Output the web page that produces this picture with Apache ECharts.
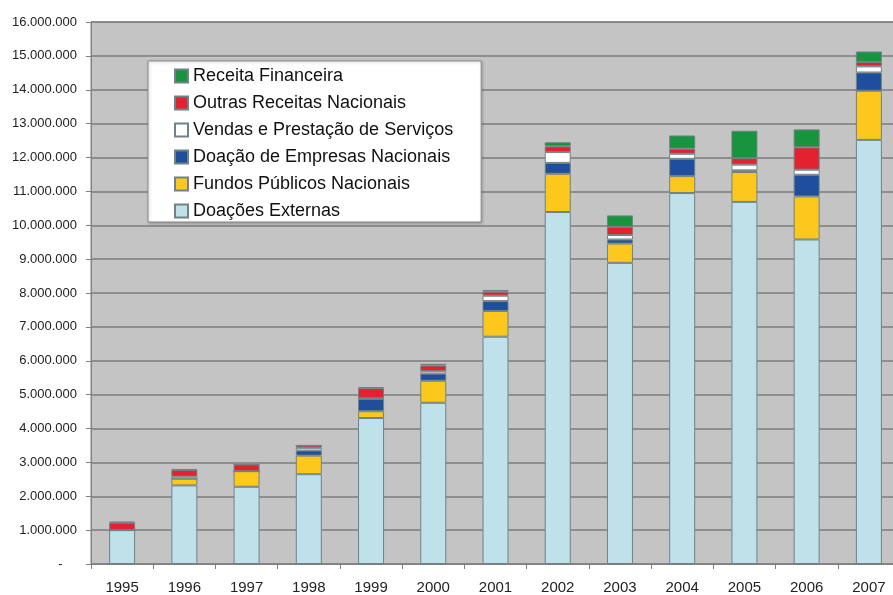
<!DOCTYPE html>
<html>
<head>
<meta charset="utf-8">
<script src="https://cdn.jsdelivr.net/npm/echarts@6/dist/echarts.min.js"></script>
<style>
  html, body { margin: 0; padding: 0; background: #fff; overflow: hidden; }
  #receitas { width: 900px; height: 595px; }
</style>
</head>
<body>
<div id="receitas"></div>
<script>
/* jshint esversion: 6 */
// =====================================================================================================================
// Donnees
let anos = ['1995', '1996', '1997', '1998', '1999', '2000', '2001', '2002', '2003', '2004', '2005', '2006', '2007'];

let doacoesExternas = [1000000, 2320000, 2280000, 2650000, 4310000, 4760000, 6710000, 10390000, 8890000, 10950000, 10690000, 9580000, 12520000];
let fundosPublicos = [0, 200000, 460000, 550000, 200000, 650000, 760000, 1130000, 570000, 500000, 880000, 1270000, 1450000];
let doacaoEmpresas = [0, 0, 0, 150000, 360000, 210000, 290000, 320000, 120000, 510000, 50000, 640000, 540000];
let vendasServicos = [0, 60000, 0, 80000, 20000, 70000, 160000, 320000, 130000, 150000, 170000, 150000, 180000];
let outrasReceitas = [220000, 200000, 200000, 70000, 300000, 170000, 120000, 170000, 240000, 150000, 190000, 660000, 130000];
let receitaFinanceira = [30000, 20000, 0, 0, 30000, 50000, 50000, 120000, 340000, 390000, 810000, 530000, 310000];

let ordemLegenda = ['Receita Financeira', 'Outras Receitas Nacionais', 'Vendas e Prestação de Serviços',
  'Doação de Empresas Nacionais', 'Fundos Públicos Nacionais', 'Doações Externas'];

let fonte = '"Liberation Sans", Arial, sans-serif';
let corBorda = '#6f8286';

function formatMilhar(val) {
  'use strict';
  if (val === 0) {
    return '-\u2007\u2007';
  }
  return String(val).replace(/\B(?=(\d{3})+(?!\d))/g, '.');
}

function serie(nome, dados, cor) {
  'use strict';
  return {
    name: nome,
    type: 'bar',
    stack: 'Total',
    barWidth: 26,
    data: dados,
    itemStyle: {
      color: cor,
      borderColor: corBorda,
      borderWidth: 1
    },
    emphasis: {disabled: true}
  };
}

// =====================================================================================================================
// le graphique deborde a droite de la fenetre, comme sur l'original
let domReceitas = document.getElementById('receitas');
let chartReceitas = echarts.init(domReceitas);
let optionReceitas = {
  animation: false,
  textStyle: {fontFamily: fonte},
  grid: {
    left: 91,
    top: 22,
    width: 809,
    bottom: 30,
    show: true,
    backgroundColor: '#c4c4c4',
    borderColor: '#808080',
    borderWidth: 1
  },
  legend: {
    data: ordemLegenda,
    orient: 'vertical',
    left: 148,
    top: 61,
    icon: 'rect',
    itemWidth: 13,
    itemHeight: 13,
    itemGap: 7,
    padding: [5, 28, 1, 26],
    backgroundColor: '#ffffff',
    borderColor: '#8a8a8a',
    borderWidth: 1,
    shadowColor: 'rgba(0,0,0,0.25)',
    shadowBlur: 3,
    shadowOffsetX: 1,
    shadowOffsetY: 1,
    textStyle: {
      fontFamily: fonte,
      fontSize: 18,
      lineHeight: 20,
      color: '#111'
    }
  },
  xAxis: {
    type: 'category',
    data: anos,
    axisLine: {lineStyle: {color: '#808080', width: 1}},
    axisTick: {show: true, length: 5, lineStyle: {color: '#808080'}},
    axisLabel: {
      margin: 16,
      fontFamily: fonte,
      fontSize: 15,
      color: '#222'
    }
  },
  yAxis: {
    type: 'value',
    min: 0,
    max: 16000000,
    interval: 1000000,
    axisLine: {show: true, lineStyle: {color: '#808080', width: 1}},
    axisTick: {show: true, length: 5, lineStyle: {color: '#808080'}},
    splitLine: {lineStyle: {color: '#7c7c7c', width: 1.5}},
    axisLabel: {
      margin: 14,
      fontFamily: fonte,
      fontSize: 13,
      color: '#222',
      formatter: formatMilhar
    }
  },
  series: [
    serie('Doações Externas', doacoesExternas, '#bfe2ea'),
    serie('Fundos Públicos Nacionais', fundosPublicos, '#fcc81e'),
    serie('Doação de Empresas Nacionais', doacaoEmpresas, '#1f4e9d'),
    serie('Vendas e Prestação de Serviços', vendasServicos, '#ffffff'),
    serie('Outras Receitas Nacionais', outrasReceitas, '#e2222f'),
    serie('Receita Financeira', receitaFinanceira, '#17943d')
  ]
};

optionReceitas && chartReceitas.setOption(optionReceitas);
</script>
</body>
</html>
